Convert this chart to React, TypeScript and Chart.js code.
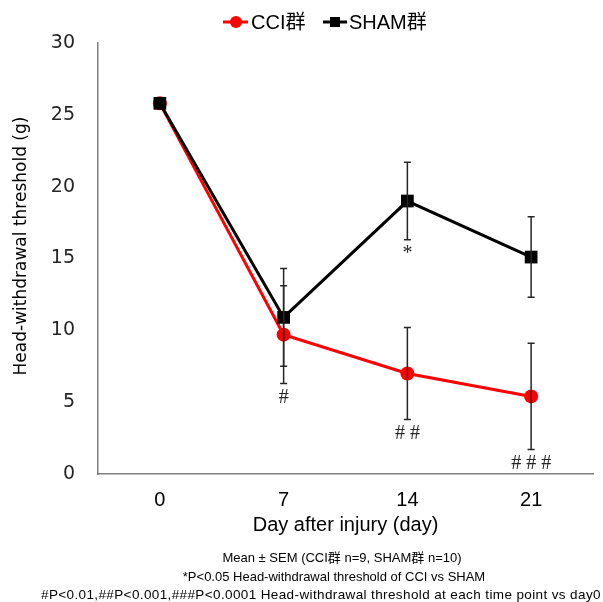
import React, { useEffect, useRef } from "react";
import { Chart, registerables } from "chart.js";

Chart.register(...registerables);

const days = ["0", "7", "14", "21"];
const cciMean = [25.8, 9.7, 7.0, 5.4];
const cciSem = [0, 3.4, 3.2, 3.7];
const shamMean = [25.8, 10.9, 19.0, 15.1];
const shamSem = [0, 3.4, 2.7, 2.8];
const cciMarks = ["", "#", "##", "###"];
const shamMarks = ["", "", "*", ""];
const yTicks = [0, 5, 10, 15, 20, 25, 30];
const legendLabels = ["CCI群", "SHAM群"];
const xTitle = "Day after injury (day)";
const yTitle = "Head-withdrawal threshold (g)";
const footnotes = [
  "Mean ± SEM (CCI群 n=9, SHAM群 n=10)",
  "*P<0.05 Head-withdrawal threshold of CCI vs SHAM",
  "#P<0.01,##P<0.001,###P<0.0001 Head-withdrawal threshold at each time point vs day0",
];

const SANS = "'Liberation Sans', Arial, 'Noto Sans CJK JP', sans-serif";
const DEJAVU = "'DejaVu Sans', 'Noto Sans CJK JP', sans-serif";

const extras = {
  id: "extras",
  afterDatasetsDraw(chart: any) {
    const ctx = chart.ctx;
    const x = chart.scales.x;
    const y = chart.scales.y;
    const ca = chart.chartArea;
    ctx.save();
    const series = [
      { mean: cciMean, sem: cciSem, marks: cciMarks },
      { mean: shamMean, sem: shamSem, marks: shamMarks },
    ];
    // error bars
    ctx.strokeStyle = "#262626";
    ctx.lineWidth = 1.5;
    series.forEach((s) => {
      s.mean.forEach((m, i) => {
        if (!s.sem[i]) return;
        const px = x.getPixelForValue(i);
        const top = y.getPixelForValue(m + s.sem[i]);
        const bot = y.getPixelForValue(m - s.sem[i]);
        ctx.beginPath();
        ctx.moveTo(px, top);
        ctx.lineTo(px, bot);
        ctx.moveTo(px - 3.5, top);
        ctx.lineTo(px + 3.5, top);
        ctx.moveTo(px - 3.5, bot);
        ctx.lineTo(px + 3.5, bot);
        ctx.stroke();
      });
    });
    // significance marks
    ctx.fillStyle = "#262626";
    ctx.textAlign = "center";
    ctx.textBaseline = "middle";
    ctx.font = "20px 'Liberation Serif', serif";
    series.forEach((s) => {
      s.marks.forEach((mk, i) => {
        if (!mk) return;
        const px = x.getPixelForValue(i);
        const bot = y.getPixelForValue(s.mean[i] - s.sem[i]);
        (ctx as any).letterSpacing = "5px";
        ctx.fillText(mk, px + 2.5, bot + 14);
        (ctx as any).letterSpacing = "0px";
      });
    });
    // legend
    const ly = 22;
    ctx.lineWidth = 3;
    ctx.strokeStyle = "#FF0000";
    ctx.beginPath();
    ctx.moveTo(223, ly);
    ctx.lineTo(248, ly);
    ctx.stroke();
    ctx.fillStyle = "#FF0000";
    ctx.beginPath();
    ctx.arc(236, ly, 6, 0, Math.PI * 2);
    ctx.fill();
    ctx.strokeStyle = "#000";
    ctx.beginPath();
    ctx.moveTo(323, ly);
    ctx.lineTo(347, ly);
    ctx.stroke();
    ctx.fillStyle = "#000";
    ctx.fillRect(330, ly - 5, 10, 10);
    ctx.font = "20px " + SANS;
    ctx.textAlign = "left";
    ctx.fillStyle = "#000";
    ctx.fillText(legendLabels[0], 251, ly + 1);
    ctx.fillText(legendLabels[1], 349, ly + 1);
    // axis titles
    ctx.textAlign = "center";
    ctx.font = "20px " + SANS;
    ctx.fillStyle = "#000";
    ctx.fillText(xTitle, (ca.left + ca.right) / 2, 525);
    ctx.save();
    ctx.translate(22, 246);
    ctx.rotate(-Math.PI / 2);
    ctx.font = "17px " + DEJAVU;
    ctx.fillText(yTitle, 0, 0);
    ctx.restore();
    // footnotes
    ctx.font = "13px " + SANS;
    ctx.fillText(footnotes[0], 342, 558);
    ctx.fillText(footnotes[1], 334, 577);
    ctx.textAlign = "left";
    ctx.font = "13.5px " + SANS;
    (ctx as any).letterSpacing = "0.38px";
    ctx.fillText(footnotes[2], 41, 595);
    (ctx as any).letterSpacing = "0px";
    ctx.restore();
  },
};

export default function App() {
  const ref = useRef<HTMLCanvasElement>(null);
  useEffect(() => {
    if (!ref.current) return;
    const chart = new Chart(ref.current, {
      type: "line",
      data: {
        labels: days,
        datasets: [
          {
            label: legendLabels[0],
            data: cciMean,
            borderColor: "#FF0000",
            backgroundColor: "#FF0000",
            borderWidth: 3,
            pointStyle: "circle",
            pointRadius: 7,
            pointHoverRadius: 7,
            pointBorderWidth: 0,
            order: 1,
          },
          {
            label: legendLabels[1],
            data: shamMean,
            borderColor: "#000000",
            backgroundColor: "#000000",
            borderWidth: 3,
            pointStyle: "rect",
            pointRadius: 9,
            pointHoverRadius: 9,
            pointBorderWidth: 0,
            order: 0,
          },
        ],
      },
      options: {
        responsive: false,
        animation: false,
        layout: { padding: { top: 43, right: 10, left: 0, bottom: 0 } },
        plugins: { legend: { display: false }, tooltip: { enabled: false } },
        scales: {
          x: {
            type: "category",
            offset: true,
            grid: { display: false },
            border: { color: "#7f7f7f", width: 1.5 },
            ticks: { color: "#000", font: { family: SANS, size: 20 }, padding: 6 },
            afterFit: (s: any) => {
              s.height = 602 - 474;
            },
          },
          y: {
            min: 0,
            max: 30,
            grid: { display: false },
            border: { color: "#7f7f7f", width: 1.5 },
            afterBuildTicks: (s: any) => {
              s.ticks = yTicks.map((v) => ({ value: v }));
            },
            ticks: { color: "#262626", font: { family: DEJAVU, size: 19 }, padding: 15 },
            afterFit: (s: any) => {
              s.width = 98;
            },
          },
        },
      },
      plugins: [extras],
    });
    return () => chart.destroy();
  }, []);
  return (
    <div style={{ position: "absolute", left: 0, top: 0, width: 603, height: 602, background: "#fff" }}>
      <canvas ref={ref} width={603} height={602} style={{ display: "block" }} />
    </div>
  );
}
